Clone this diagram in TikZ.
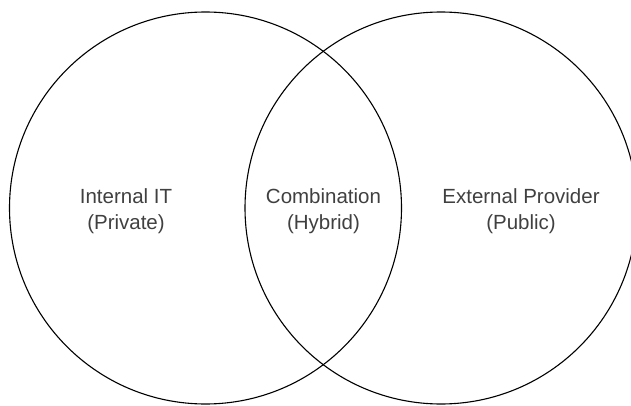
\documentclass[tikz,border=0pt]{standalone}
\usepackage{fontspec}
\setmainfont{Liberation Sans}
\begin{document}
\begin{tikzpicture}[x=1pt,y=-1pt,
  ring/.style={draw=black,line width=1.1pt,circle,minimum size=392pt,inner sep=0pt},
  lbl/.style={align=center,font=\fontsize{20.5}{26}\selectfont,text=black!75,inner sep=0pt}]
\useasboundingbox (0,0) rectangle (631,406);
\node[ring] (left) at (205.5,208) {};
\node[ring] (right) at (441,208) {};
\node[lbl] (priv) at (126,211) {Internal IT\\(Private)};
\node[lbl] (hyb) at (323.5,211) {Combination\\(Hybrid)};
\node[lbl] (pub) at (521,211) {External Provider\\(Public)};
\end{tikzpicture}
\end{document}
